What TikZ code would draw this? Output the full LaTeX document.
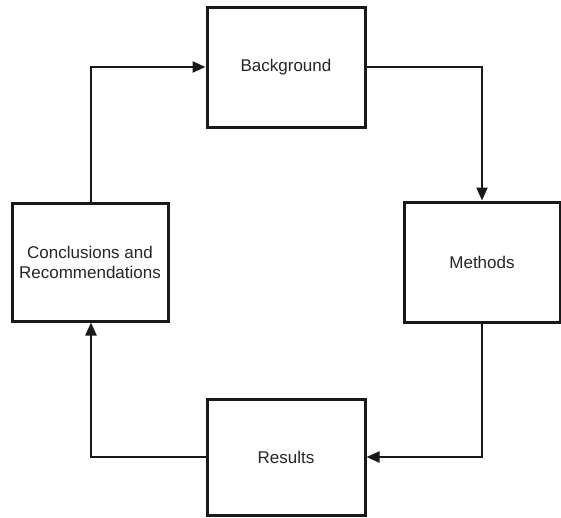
\documentclass[tikz,border=0pt]{standalone}
\usepackage{fontspec}
\setmainfont{Liberation Sans}
\usetikzlibrary{arrows.meta}
\begin{document}
\begin{tikzpicture}[x=1pt,y=-1pt,
  box/.style={draw=black!90, line width=3pt, fill=white, align=center,
    inner sep=0pt, font=\fontsize{17}{20}\selectfont, text=black!85},
  conn/.style={draw=black!90, line width=2.2pt,
    -{Triangle[length=13pt,width=11pt]}}]
\useasboundingbox (0,0) rectangle (561,517);
\node[box, minimum width=158pt, minimum height=120pt] (bg) at (286,67) {Background};
\node[box, minimum width=156pt, minimum height=120pt] (me) at (482,262) {Methods};
\node[box, minimum width=158pt, minimum height=116pt] (re) at (286,457) {Results};
\node[box, minimum width=156pt, minimum height=118pt] (cc) at (90,262) {Conclusions and\\Recommendations};
\coordinate (tl) at (91,67);
\coordinate (tr) at (482,67);
\coordinate (br) at (482,457);
\coordinate (bl) at (91,457);
\draw[conn] (cc.north -| tl) -- (tl) -- (bg.west);
\draw[conn] (bg.east) -- (tr) -- (me.north);
\draw[conn] (me.south) -- (br) -- (re.east);
\draw[conn] (re.west) -- (bl) -- (cc.south -| bl);
\end{tikzpicture}
\end{document}
